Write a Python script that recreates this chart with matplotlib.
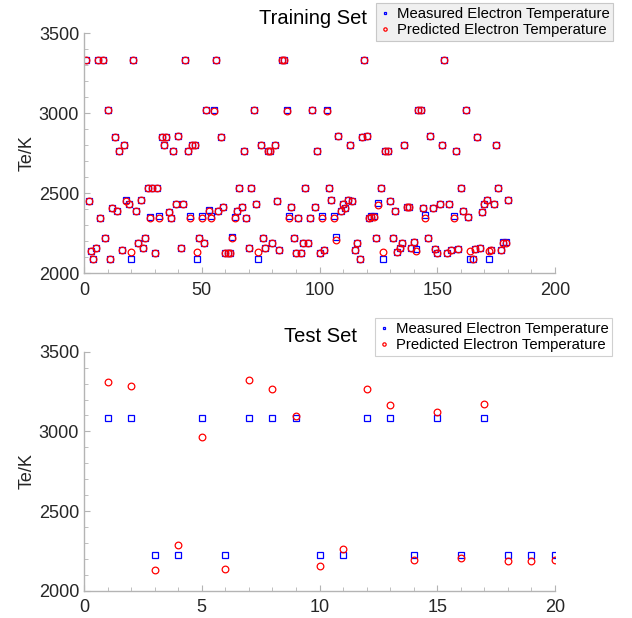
import matplotlib
matplotlib.use("Agg")
import matplotlib.pyplot as plt
import numpy as np
from matplotlib.ticker import MultipleLocator

plt.rcParams['font.family'] = ['Liberation Sans', 'DejaVu Sans']

# ---------------- Training data ----------------
train_measured = [
    3333, 2454, 2142, 2087, 2156, 3333, 2348, 3333, 2221, 3023,
    2087, 2410, 2852, 2392, 2767, 2146, 2802, 2460, 2431, 2087,
    3333, 2392, 2190, 2458, 2156, 2221, 2533, 2352, 2533, 2125,
    2533, 2360, 2852, 2802, 2852, 2385, 2348, 2767, 2431, 2856,
    2156, 2431, 3333, 2767, 2360, 2802, 2802, 2087, 2221, 2360,
    2192, 3023, 2395, 2360, 3023, 3333, 2390, 2852, 2417, 2127,
    2127, 2127, 2225, 2352, 2390, 2533, 2417, 2767, 2348, 2156,
    2533, 3023, 2431, 2087, 2802, 2221, 2160, 2767, 2767, 2190,
    2802, 2454, 2148, 3333, 3333, 3023, 2360, 2417, 2221, 2127,
    2348, 2127, 2190, 2533, 2190, 2348, 3023, 2417, 2767, 2127,
    2360, 2148, 3023, 2533, 2458, 2356, 2225, 2856, 2392, 2431,
    2410, 2458, 2802, 2454, 2148, 2190, 2087, 2852, 3333, 2856,
    2348, 2360, 2356, 2221, 2440, 2533, 2087, 2767, 2767, 2454,
    2221, 2390, 2131, 2156, 2190, 2802, 2417, 2412, 2156, 2194,
    2150, 3023, 3023, 2410, 2362, 2221, 2856, 2410, 2152, 2125,
    2431, 2802, 3333, 2127, 2435, 2148, 2356, 2767, 2152, 2533,
    2390, 3023, 2352, 2087, 2087, 2152, 2852, 2156, 2385, 2431,
    2458, 2087, 2148, 2431, 2802, 2533, 2148, 2195, 2195, 2458,
]
train_predicted = [
    3333, 2454, 2142, 2087, 2156, 3333, 2348, 3333, 2221, 3023,
    2087, 2410, 2852, 2392, 2767, 2146, 2802, 2454, 2431, 2131,
    3333, 2392, 2190, 2458, 2156, 2221, 2533, 2346, 2533, 2125,
    2533, 2348, 2852, 2802, 2852, 2385, 2348, 2767, 2431, 2856,
    2156, 2431, 3333, 2767, 2348, 2802, 2802, 2131, 2221, 2344,
    2192, 3023, 2390, 2348, 3017, 3333, 2390, 2852, 2417, 2127,
    2127, 2127, 2221, 2344, 2390, 2533, 2417, 2767, 2348, 2156,
    2533, 3023, 2431, 2131, 2802, 2221, 2160, 2767, 2767, 2190,
    2802, 2454, 2148, 3333, 3333, 3017, 2348, 2417, 2221, 2127,
    2348, 2127, 2190, 2533, 2190, 2348, 3023, 2417, 2767, 2127,
    2348, 2148, 3017, 2533, 2458, 2348, 2208, 2856, 2392, 2431,
    2410, 2458, 2802, 2454, 2148, 2190, 2092, 2852, 3333, 2856,
    2344, 2350, 2350, 2221, 2427, 2533, 2133, 2767, 2767, 2454,
    2221, 2390, 2131, 2156, 2190, 2802, 2417, 2412, 2156, 2194,
    2140, 3019, 3019, 2410, 2348, 2221, 2856, 2410, 2152, 2125,
    2431, 2802, 3333, 2127, 2435, 2148, 2344, 2767, 2152, 2533,
    2390, 3023, 2352, 2140, 2090, 2152, 2852, 2156, 2385, 2431,
    2458, 2140, 2148, 2431, 2802, 2533, 2148, 2192, 2192, 2458,
]
train_index = np.arange(1, len(train_measured) + 1)

# ---------------- Test data ----------------
test_index = list(range(1, 21))
test_measured = [3082, 3082, 2226, 2226, 3082, 2226, 3082, 3082, 3082, 2226,
                 2226, 3082, 3082, 2226, 3082, 2226, 3082, 2226, 2226, 2226]
test_predicted = [3312, 3287, 2132, 2289, 2967, 2136, 3324, 3266, 3098, 2155,
                  2259, 3268, 3165, 2192, 3123, 2205, 3172, 2184, 2188, 2192]

labels = ["Measured Electron Temperature", "Predicted Electron Temperature"]

W, H = 632, 618
fig = plt.figure(figsize=(W / 100, H / 100), dpi=100)

spine_col = '#b4b4b4'


def style(ax, xmax, xmajor, xminor):
    ax.set_ylim(2000, 3500)
    ax.set_xlim(0, xmax)
    for s in ['top', 'right']:
        ax.spines[s].set_visible(False)
    for s in ['left', 'bottom']:
        ax.spines[s].set_color(spine_col)
        ax.spines[s].set_linewidth(1.0)
    ax.xaxis.set_major_locator(MultipleLocator(xmajor))
    ax.xaxis.set_minor_locator(MultipleLocator(xminor))
    ax.yaxis.set_major_locator(MultipleLocator(500))
    ax.yaxis.set_minor_locator(MultipleLocator(100))
    ax.tick_params(which='both', direction='in', color=spine_col, labelsize=13,
                   labelcolor='#262626')
    ax.tick_params(axis='y', which='both', pad=3.5)
    ax.tick_params(axis='x', which='both', pad=6)
    ax.tick_params(which='major', length=4)
    ax.tick_params(which='minor', length=3)
    ax.set_ylabel("Te/K", fontsize=13, color='#262626')
    ax.yaxis.set_label_coords((36 - 84) / 471, 0.5)


def draw(ax, x, m, p):
    ax.plot(x, m, linestyle='none', marker='s', markersize=3.8,
            markerfacecolor='none', markeredgecolor='#0000ff', markeredgewidth=0.9,
            label=labels[0])
    ax.plot(x, p, linestyle='none', marker='o', markersize=4.8,
            markerfacecolor='none', markeredgecolor='#ff0000', markeredgewidth=0.9,
            label=labels[1])


ax1 = fig.add_axes([84 / W, 1 - 273.3 / H, (555 - 84) / W, (273.3 - 33.3) / H])
draw(ax1, train_index, train_measured, train_predicted)
style(ax1, 200, 50, 10)
ax1.text(313 / W, 1 - 18 / H, "Training Set", transform=fig.transFigure,
         ha='center', va='center', fontsize=14.5, color='black')
leg1 = ax1.legend(loc='upper right', bbox_to_anchor=(613 / W, 1 - 3 / H),
                  bbox_transform=fig.transFigure, fontsize=10.7, frameon=True,
                  fancybox=False, edgecolor='#c8c8c8', facecolor='#f0f0f0',
                  framealpha=1, markerscale=0.5, handlelength=0.6,
                  handletextpad=0.5, borderpad=0.25, labelspacing=0.15,
                  borderaxespad=0)
leg1.get_frame().set_linewidth(0.8)

ax2 = fig.add_axes([84 / W, 1 - 590.7 / H, (555 - 84) / W, (590.7 - 351.7) / H])
draw(ax2, test_index, test_measured, test_predicted)
style(ax2, 20, 5, 1)
ax2.text(320 / W, 1 - 336 / H, "Test Set", transform=fig.transFigure,
         ha='center', va='center', fontsize=14.5, color='black')
leg2 = ax2.legend(loc='upper right', bbox_to_anchor=(612 / W, 1 - 318 / H),
                  bbox_transform=fig.transFigure, fontsize=10.7, frameon=True,
                  fancybox=False, edgecolor='#d0d0d0', facecolor='white',
                  framealpha=1, markerscale=0.5, handlelength=0.6,
                  handletextpad=0.5, borderpad=0.25, labelspacing=0.15,
                  borderaxespad=0)
leg2.get_frame().set_linewidth(0.8)

fig.savefig("out.png", dpi=100)
